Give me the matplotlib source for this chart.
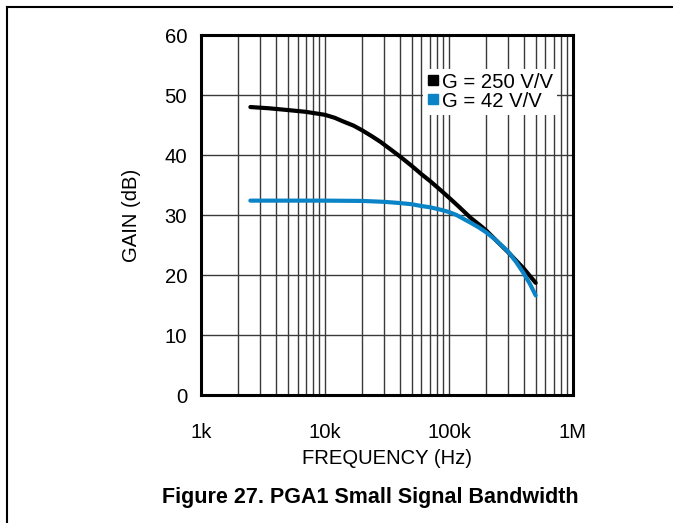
import matplotlib
matplotlib.use("Agg")
import matplotlib.pyplot as plt
from matplotlib.lines import Line2D
from matplotlib.ticker import FixedLocator, NullFormatter, NullLocator

plt.rcParams['font.family'] = ['Liberation Sans', 'DejaVu Sans']

# Data
freq_250 = [2.5e3, 3.5e3, 5e3, 7e3, 10e3, 12e3, 14e3, 17e3, 20e3, 24e3, 28e3, 33e3,
            40e3, 50e3, 60e3, 70e3, 85e3, 100e3, 120e3, 150e3, 180e3, 200e3,
            250e3, 300e3, 400e3, 500e3]
gain_250 = [48.0, 47.8, 47.5, 47.2, 46.7, 46.2, 45.6, 44.9, 44.1, 43.1, 42.2, 41.1,
            39.8, 38.2, 36.8, 35.7, 34.2, 32.9, 31.4, 29.5, 28.2, 27.4,
            25.4, 23.8, 21.1, 18.7]
freq_42 = [2.5e3, 10e3, 20e3, 30e3, 40e3, 50e3, 60e3, 70e3, 85e3, 100e3, 115e3,
           130e3, 150e3, 175e3, 200e3, 230e3, 260e3, 300e3, 350e3, 400e3, 450e3, 500e3]
gain_42 = [32.4, 32.4, 32.35, 32.2, 32.0, 31.8, 31.5, 31.3, 30.9, 30.5, 30.0,
           29.4, 28.7, 27.9, 27.1, 26.1, 25.1, 23.9, 22.1, 20.3, 18.5, 16.6]
labels = ['G = 250 V/V', 'G = 42 V/V']
colors = ['#000000', '#0a84c6']
x_ticks = [1e3, 1e4, 1e5, 1e6]
x_ticklabels = ['1k', '10k', '100k', '1M']
y_ticks = [0, 10, 20, 30, 40, 50, 60]

FS = 14.6

fig = plt.figure(figsize=(6.73, 5.23), dpi=100)
ax = fig.add_axes([0.2987, 0.2447, 0.5527, 0.6883])

ax.set_xscale('log')
ax.set_xlim(1e3, 1e6)
ax.set_ylim(0, 60)

ax.plot(freq_250, gain_250, color=colors[0], lw=3.0, solid_capstyle='round',
        solid_joinstyle='round', zorder=3)
ax.plot(freq_42, gain_42, color=colors[1], lw=3.0, solid_capstyle='round',
        solid_joinstyle='round', zorder=4)

minor = [m * d for d in (1e3, 1e4, 1e5) for m in range(2, 10)]
ax.xaxis.set_major_locator(FixedLocator(x_ticks))
ax.xaxis.set_minor_locator(FixedLocator(minor))
ax.xaxis.set_minor_formatter(NullFormatter())
ax.set_xticklabels(x_ticklabels)
ax.set_yticks(y_ticks)
ax.yaxis.set_minor_locator(NullLocator())

ax.grid(True, which='both', axis='x', color='#3a3a3a', lw=1.0)
ax.grid(True, which='major', axis='y', color='#3a3a3a', lw=1.0)
ax.tick_params(which='both', length=0)
ax.tick_params(axis='y', pad=10, labelsize=FS)
ax.tick_params(axis='x', pad=20, labelsize=FS)
for s in ax.spines.values():
    s.set_linewidth(2.2)
    s.set_zorder(5)

ax.set_xlabel('FREQUENCY (Hz)', fontsize=FS, labelpad=5.5)
ax.set_ylabel('GAIN (dB)', fontsize=FS, labelpad=17)

handles = [Line2D([], [], marker='s', linestyle='none', markersize=7.5, color=c) for c in colors]
leg = ax.legend(handles, labels, loc='upper left', bbox_to_anchor=(0.598, 0.907),
                fontsize=FS, frameon=True, fancybox=False, framealpha=1.0,
                edgecolor='none', facecolor='white', handlelength=0.55,
                handletextpad=0.15, labelspacing=0.0, borderpad=0.2,
                borderaxespad=0.0)
leg.set_zorder(6)

fig.text(0.55, 0.049, 'Figure 27. PGA1 Small Signal Bandwidth', ha='center', va='center',
         fontsize=15.5, fontweight='bold')

# page border lines (top and left)
fig.add_artist(Line2D([7/673, 1.0], [1 - 7/523, 1 - 7/523], color='black', lw=1.5,
                      transform=fig.transFigure))
fig.add_artist(Line2D([7/673, 7/673], [0, 1 - 7/523], color='black', lw=1.5,
                      transform=fig.transFigure))

fig.savefig('out.png', dpi=100)
